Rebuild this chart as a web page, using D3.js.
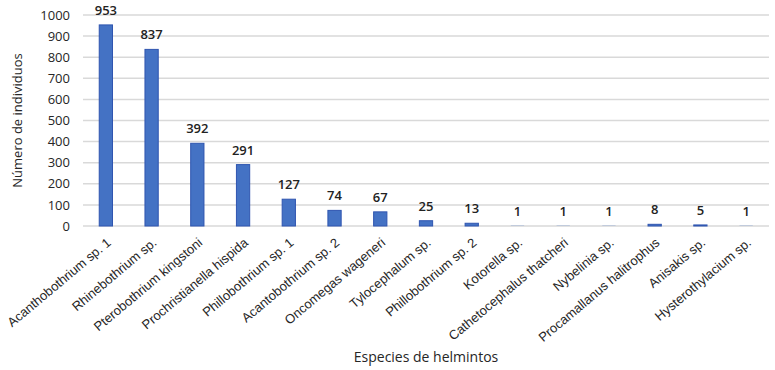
<!DOCTYPE html>
<html>
<head>
<meta charset="utf-8">
<script src="https://cdn.jsdelivr.net/npm/d3@7"></script>
<style>
  body { margin: 0; background: #fff; }
  svg { font-family: "Open Sans", "Noto Sans", sans-serif; }
</style>
</head>
<body>
<svg width="775" height="370"></svg>
<script>
// species and counts
var species = ["Acanthobothrium sp. 1", "Rhinebothrium sp.", "Pterobothrium kingstoni",
  "Prochristianella hispida", "Phillobothrium sp. 1", "Acantobothrium sp. 2",
  "Oncomegas wageneri", "Tylocephalum sp.", "Phillobothrium sp. 2", "Kotorella sp.",
  "Cathetocephalus thatcheri", "Nybelinia sp.", "Procamallanus halitrophus",
  "Anisakis sp.", "Hysterothylacium sp."];
var counts = [953, 837, 392, 291, 127, 74, 67, 25, 13, 1, 1, 1, 8, 5, 1];
var yTicks = [0, 100, 200, 300, 400, 500, 600, 700, 800, 900, 1000];

var svg = d3.select("svg");
var margin = {top: 15, left: 83, right: 6, bottom: 144};
var W = 775, H = 370;

var x = d3.scaleBand()
    .domain(species)
    .range([margin.left, W - margin.right])
    .paddingInner(0.71)
    .paddingOuter(0.355);
var y = d3.scaleLinear().domain([0, 1000]).range([H - margin.bottom, margin.top]);

// gridlines
svg.append("g").selectAll("line")
  .data(yTicks)
  .enter().append("line")
  .attr("x1", margin.left).attr("x2", W - margin.right)
  .attr("y1", function(d) { return y(d); })
  .attr("y2", function(d) { return y(d); })
  .attr("stroke", "#d9d9d9")
  .attr("stroke-width", 1.5);

// y axis tick labels
var yAxis = d3.axisLeft(y).tickValues(yTicks).tickFormat(d3.format("d")).tickSize(0).tickPadding(13);
var ga = svg.append("g").attr("transform", "translate(" + margin.left + ",0)").call(yAxis);
ga.select(".domain").remove();
ga.selectAll("text").attr("font-size", "13px").attr("fill", "#262626").attr("font-family", "Open Sans");

// bars
svg.append("g").selectAll("rect")
  .data(counts)
  .enter().append("rect")
  .attr("x", function(d, i) { return x(species[i]); })
  .attr("width", x.bandwidth())
  .attr("y", function(d) { return y(d); })
  .attr("height", function(d) { return y(0) - y(d); })
  .attr("fill", "#4472c4")
  .attr("stroke", function(d) { return d > 1 ? "#2f55b0" : "none"; })
  .attr("stroke-width", 1);

// value labels
svg.append("g").selectAll("text")
  .data(counts)
  .enter().append("text")
  .attr("x", function(d, i) { return x(species[i]) + x.bandwidth() / 2; })
  .attr("y", function(d) { return y(d) - 10; })
  .attr("text-anchor", "middle")
  .attr("font-size", "13px")
  .attr("font-weight", 600)
  .attr("fill", "#222")
  .text(function(d) { return d; });

// x axis category labels
var xAxis = d3.axisBottom(x).tickSize(0).tickPadding(0);
var gx = svg.append("g").attr("transform", "translate(0," + (y(0) + 11) + ")").call(xAxis);
gx.select(".domain").remove();
gx.selectAll("text")
  .attr("font-size", "13px")
  .attr("fill", "#262626")
  .attr("text-anchor", "end")
  .attr("dy", "0.7em")
  .attr("transform", "rotate(-40)");

// axis titles
svg.append("text")
  .attr("transform", "translate(22," + ((y(0) + y(1000)) / 2) + ") rotate(-90)")
  .attr("text-anchor", "middle")
  .attr("font-size", "13px")
  .attr("fill", "#262626")
  .text("Número de individuos");

svg.append("text")
  .attr("x", 426)
  .attr("y", 362)
  .attr("text-anchor", "middle")
  .attr("font-size", "14px")
  .attr("fill", "#262626")
  .text("Especies de helmintos");
</script>
</body>
</html>
